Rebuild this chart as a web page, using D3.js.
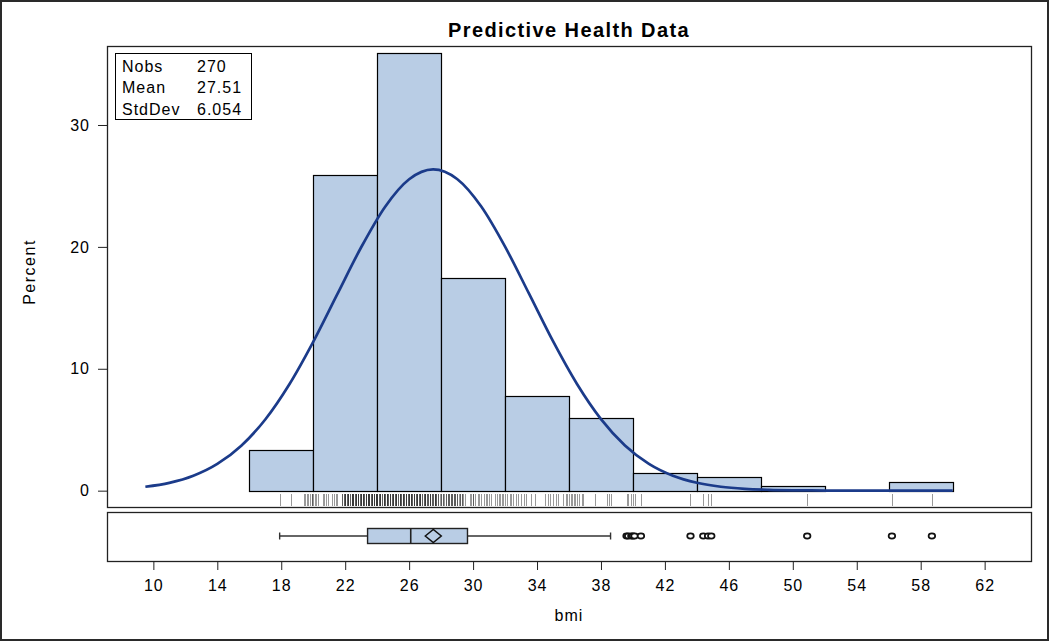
<!DOCTYPE html>
<html>
<head>
<meta charset="utf-8">
<script src="https://cdn.jsdelivr.net/npm/d3@7"></script>
<style>
  body { margin: 0; background: #fff; }
  svg text { font-family: 'Liberation Sans', Arial, sans-serif; fill: #000; }
</style>
</head>
<body>
<svg id="chart" width="1050" height="642"></svg>
<script>
/* histogram bins (percent of 270 obs) */
const binStarts = [16, 20, 24, 28, 32, 36, 40, 44, 48, 52, 56]
const binWidth = 4
const binPercents = [3.33, 25.93, 35.93, 17.41, 7.78, 5.93, 1.48, 1.11, 0.37, 0, 0.74]

/* fitted normal curve */
const curveX = [9.5, 11, 12.5, 14, 15.5, 17, 18.5, 20, 21.5, 23, 24.5, 26, 27.5, 29, 30.5, 32, 33.5, 35, 36.5, 38, 39.5, 41, 42.5, 44, 45.5, 47, 48.5, 50, 52, 54, 56, 58, 60]
const curveY = [0.32, 0.64, 1.22, 2.19, 3.69, 5.84, 8.71, 12.21, 16.1, 19.97, 23.3, 25.55, 26.36, 25.57, 23.33, 20.02, 16.16, 12.26, 8.75, 5.87, 3.71, 2.2, 1.23, 0.65, 0.32, 0.15, 0.07, 0.03, 0.01, 0, 0, 0, 0]

const xTicks = [10, 14, 18, 22, 26, 30, 34, 38, 42, 46, 50, 54, 58, 62]
const yTicks = [0, 10, 20, 30]

const statLabels = ['Nobs', 'Mean', 'StdDev']
const statValues = ['270', '27.51', '6.054']

/* rug: distinct bmi values and how many obs sit on each */
const rugValues = [
  17.9, 18.6, 19.4, 19.5, 19.6, 19.7, 19.8, 19.9,
  20.0, 20.1, 20.2, 20.3, 20.6, 20.7, 20.8, 20.9, 21.2, 21.3, 21.4, 21.5,
  21.8, 21.9, 22.0, 22.1, 22.2, 22.3, 22.4, 22.5, 22.6, 22.7, 22.8, 22.9, 23.0, 23.1, 23.2, 23.3, 23.4, 23.5, 23.6, 23.7, 23.8, 23.9,
  24.0, 24.1, 24.2, 24.3, 24.4, 24.5, 24.6, 24.7, 24.8, 24.9, 25.0, 25.1, 25.2, 25.3, 25.4, 25.5, 25.6, 25.7, 25.8, 25.9,
  26.0, 26.1, 26.2, 26.3, 26.4, 26.5, 26.6, 26.7, 26.8, 26.9, 27.0, 27.1, 27.2, 27.3, 27.4, 27.5, 27.6, 27.7, 27.8, 27.9,
  28.0, 28.1, 28.2, 28.3, 28.4, 28.5, 28.6, 28.7, 28.8, 28.9, 29.0, 29.1, 29.2, 29.3, 29.4, 29.5,
  29.8, 29.9, 30.0, 30.1, 30.3, 30.4, 30.5, 30.7, 30.8, 30.9, 31.0, 31.1, 31.4, 31.5, 31.6, 31.7, 31.8, 31.9,
  32.0, 32.1, 32.3, 32.4, 32.5, 32.7, 32.8, 33.0, 33.2, 33.3, 33.6, 33.9, 34.5, 34.7, 34.8, 35.0, 35.2, 35.3, 35.6, 35.8, 35.9,
  36.0, 36.1, 36.2, 36.3, 36.4, 36.5, 36.6, 36.8, 36.9, 37.6, 38.4, 38.5, 38.6, 39.6, 39.7, 39.9,
  40.0, 40.1, 40.5, 43.6, 44.4, 44.7, 44.9, 50.9, 56.2, 58.7
]
const rugCounts = [
  1, 1, 1, 1, 1, 1, 1, 2,
  1, 1, 1, 1, 1, 1, 1, 1, 1, 1, 1, 1,
  2, 2, 3, 2, 3, 2, 3, 3, 2, 3, 3, 2, 3, 3, 2, 3, 3, 3, 2, 3, 3, 3,
  3, 2, 3, 2, 3, 2, 3, 2, 3, 2, 3, 2, 3, 2, 3, 2, 3, 2, 3, 2,
  3, 3, 2, 3, 2, 3, 2, 3, 2, 2, 3, 2, 2, 3, 2, 2, 3, 2, 2, 1,
  2, 2, 1, 2, 2, 2, 2, 2, 2, 2, 2, 1, 2, 2, 1, 1,
  1, 1, 2, 1, 1, 1, 1, 1, 1, 1, 1, 1, 1, 1, 1, 1, 1, 1,
  1, 1, 1, 1, 1, 1, 1, 1, 1, 1, 1, 1, 1, 1, 1, 1, 1, 1, 1, 1, 1,
  1, 1, 1, 1, 1, 1, 1, 1, 1, 1, 1, 1, 1, 1, 1, 1,
  1, 1, 1, 1, 1, 1, 1, 1, 1, 1
]

/* box plot */
const boxLow = 17.9
const boxQ1 = 23.4
const boxMedian = 26.1
const boxQ3 = 29.65
const boxHigh = 38.6
const boxMean = 27.51
const outliers = [39.6, 39.7, 39.9, 40.0, 40.1, 40.5, 43.6, 44.4, 44.7, 44.9, 50.9, 56.2, 58.7]

const width = 1050
const height = 642
const panel = { left: 107, right: 1031, top: 46, bottom: 507 }
const boxPanel = { top: 512, bottom: 561 }
const barFill = '#b9cde5'
const lineColor = '#1b3b8a'
const font = "'Liberation Sans', Arial, sans-serif"

const svg = d3.select('#chart')

const xScale = d3.scaleLinear().domain([7.1, 64.9]).range([panel.left, panel.right])
const yScale = d3.scaleLinear().domain([-1.34, 36.48]).range([panel.bottom, panel.top])

/* outer frame */
svg.append('rect')
  .attr('x', 1).attr('y', 1)
  .attr('width', width - 3).attr('height', height - 3)
  .attr('fill', '#fff').attr('stroke', '#2a2a2a').attr('stroke-width', 2)

/* title */
svg.append('text')
  .attr('x', (panel.left + panel.right) / 2).attr('y', 37)
  .attr('text-anchor', 'middle')
  .attr('font-size', 20).attr('font-weight', 'bold')
  .attr('letter-spacing', 1.4)
  .text('Predictive Health Data')

/* bars */
svg.append('g')
  .selectAll('rect')
  .data(binStarts.filter((d, i) => binPercents[i] > 0))
  .join('rect')
  .attr('x', (d) => Math.round(xScale(d)) + 0.5)
  .attr('y', (d) => Math.round(yScale(binPercents[binStarts.indexOf(d)])) + 0.5)
  .attr('width', (d) => Math.round(xScale(d + binWidth)) - Math.round(xScale(d)))
  .attr('height', (d) => Math.round(yScale(0)) - Math.round(yScale(binPercents[binStarts.indexOf(d)])))
  .attr('fill', barFill)
  .attr('stroke', '#000')
  .attr('stroke-width', 1.2)

/* normal curve */
svg.append('path')
  .datum(curveX)
  .attr('fill', 'none')
  .attr('stroke', lineColor)
  .attr('stroke-width', 2.7)
  .attr('stroke-linejoin', 'round')
  .attr('d', d3.line()
    .x((d) => xScale(d))
    .y((d, i) => yScale(curveY[i]))
    .curve(d3.curveMonotoneX))

/* rug */
const rug = svg.append('g')
rugValues.forEach((v, i) => {
  for (let k = 0; k < rugCounts[i]; k++) {
    rug.append('line')
      .attr('x1', Math.round(xScale(v)) + 0.5).attr('x2', Math.round(xScale(v)) + 0.5)
      .attr('y1', 494).attr('y2', 506)
      .attr('stroke', '#000').attr('stroke-opacity', 0.4)
  }
})

/* main panel border */
svg.append('rect')
  .attr('x', panel.left + 0.5).attr('y', panel.top + 0.5)
  .attr('width', panel.right - panel.left).attr('height', panel.bottom - panel.top)
  .attr('fill', 'none').attr('stroke', '#222').attr('stroke-width', 1.3)

/* stats inset */
const inset = svg.append('g')
inset.append('rect')
  .attr('x', 115.5).attr('y', 53.5).attr('width', 136).attr('height', 66)
  .attr('fill', '#fff').attr('stroke', '#000')
statLabels.forEach((s, i) => {
  inset.append('text')
    .attr('x', 122).attr('y', 71.7 + i * 21.6)
    .attr('font-size', 16).attr('letter-spacing', 1)
    .text(s)
  inset.append('text')
    .attr('x', 197).attr('y', 71.7 + i * 21.6)
    .attr('font-size', 16).attr('letter-spacing', 1)
    .text(statValues[i])
})

/* y axis */
const yAxis = svg.append('g')
  .attr('transform', `translate(${panel.left}, 0)`)
  .call(d3.axisLeft(yScale).tickValues(yTicks).tickSize(9).tickPadding(8))
yAxis.select('.domain').remove()
yAxis.attr('font-size', 16).attr('font-family', font)
yAxis.selectAll('line').attr('stroke', '#222')
yAxis.selectAll('text').attr('letter-spacing', 1).attr('fill', '#000')

svg.append('text')
  .attr('transform', 'translate(35, 272) rotate(-90)')
  .attr('text-anchor', 'middle')
  .attr('font-size', 16).attr('letter-spacing', 1.5)
  .text('Percent')

/* box plot panel */
svg.append('rect')
  .attr('x', panel.left + 0.5).attr('y', boxPanel.top + 0.5)
  .attr('width', panel.right - panel.left).attr('height', boxPanel.bottom - boxPanel.top)
  .attr('fill', 'none').attr('stroke', '#222').attr('stroke-width', 1.3)

const cy = 536
const box = svg.append('g')
box.append('line')
  .attr('x1', xScale(boxLow)).attr('x2', xScale(boxQ1))
  .attr('y1', cy).attr('y2', cy).attr('stroke', '#333').attr('stroke-width', 1.4)
box.append('line')
  .attr('x1', xScale(boxQ3)).attr('x2', xScale(boxHigh))
  .attr('y1', cy).attr('y2', cy).attr('stroke', '#333').attr('stroke-width', 1.4)
;[boxLow, boxHigh].forEach((v) => {
  box.append('line')
    .attr('x1', xScale(v)).attr('x2', xScale(v))
    .attr('y1', cy - 3.5).attr('y2', cy + 3.5)
    .attr('stroke', '#333').attr('stroke-width', 1.4)
})
box.append('rect')
  .attr('x', xScale(boxQ1)).attr('y', 528.5)
  .attr('width', xScale(boxQ3) - xScale(boxQ1)).attr('height', 15)
  .attr('fill', barFill).attr('stroke', '#222').attr('stroke-width', 1.4)
box.append('line')
  .attr('x1', xScale(boxMedian)).attr('x2', xScale(boxMedian))
  .attr('y1', 528.5).attr('y2', 543.5)
  .attr('stroke', '#222').attr('stroke-width', 1.6)
const mx = xScale(boxMean)
box.append('path')
  .attr('d', `M${mx - 8},${cy} L${mx},${cy - 6.5} L${mx + 8},${cy} L${mx},${cy + 6.5} Z`)
  .attr('fill', 'none').attr('stroke', '#111').attr('stroke-width', 1.5)
box.selectAll('ellipse')
  .data(outliers)
  .join('ellipse')
  .attr('cx', (d) => xScale(d)).attr('cy', cy)
  .attr('rx', 3.3).attr('ry', 2.6)
  .attr('fill', '#fff').attr('stroke', '#111').attr('stroke-width', 1.7)

/* x axis */
const xAxis = svg.append('g')
  .attr('transform', `translate(0, ${boxPanel.bottom})`)
  .call(d3.axisBottom(xScale).tickValues(xTicks).tickSize(9).tickPadding(10))
xAxis.select('.domain').remove()
xAxis.attr('font-size', 16).attr('font-family', font)
xAxis.selectAll('line').attr('stroke', '#222')
xAxis.selectAll('text').attr('letter-spacing', 1).attr('fill', '#000')

svg.append('text')
  .attr('x', (panel.left + panel.right) / 2).attr('y', 621)
  .attr('text-anchor', 'middle')
  .attr('font-size', 16).attr('letter-spacing', 1)
  .text('bmi')
</script>
</body>
</html>
